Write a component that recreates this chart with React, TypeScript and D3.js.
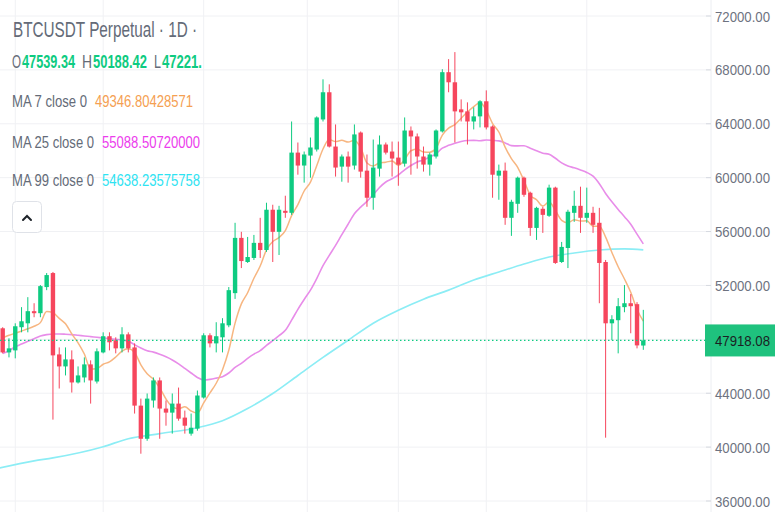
import { useLayoutEffect, useRef, useState } from 'react';
import * as d3 from 'd3';

const W = 775;
const H = 512;

// daily candles, left to right
const opens = [
  48820, 47030, 47180, 48900, 49190, 50090, 49940, 51880, 52920, 46880,
  45990, 46510, 44800, 45170, 46140, 44870, 47030, 48230, 47930, 47330,
  48370, 47400, 43080, 40620, 43460, 44950, 42860, 42560, 43230, 42190,
  41000, 41370, 43680, 48300, 47700, 48150, 49040, 51430, 55530, 53740,
  54040, 55160, 54630, 57620, 55980, 57540, 57390, 61860, 60900, 61640,
  62090, 64320, 66340, 62310, 60820, 61570, 60900, 63350, 60520, 58510,
  60670, 62460, 61940, 61490, 61040, 63500, 63060, 61570, 60970, 61570,
  63430, 67830, 67080, 65070, 64920, 64170, 64550, 65670, 63800, 60150,
  60520, 57020, 58060, 60000, 58880, 56270, 57690, 57170, 59260, 53740,
  54780, 57390, 57910, 57020, 57390, 56650, 53740, 49190, 49420, 50390,
  50680, 50610, 47539.34,
];
const highs = [
  48900, 48080, 49190, 50390, 51130, 50680, 52030, 52920, 53000, 47400,
  47400, 47180, 45990, 46660, 46440, 47330, 48520, 48520, 48150, 48900,
  48520, 47700, 43600, 43980, 45170, 45170, 43460, 43980, 44420, 42710,
  42490, 44200, 48450, 48450, 49270, 49570, 51880, 56650, 55980, 55600,
  55750, 57020, 58140, 57990, 57910, 58660, 64170, 62610, 61940, 62980,
  64550, 67300, 66930, 63950, 61720, 61940, 63950, 63430, 61720, 62830,
  63130, 62610, 62680, 62680, 64470, 63800, 63280, 62310, 61860, 63580,
  68050, 68800, 69320, 65810, 65590, 65220, 65750, 66480, 63880, 60970,
  61120, 58360, 60080, 60080, 58960, 57840, 57840, 59480, 59330, 55230,
  57620, 59030, 59330, 59260, 57840, 57760, 53890, 49790, 51060, 52030,
  51360, 50760, 50188.42,
];
const lows = [
  46960, 46660, 46590, 48520, 48520, 49640, 49640, 51650, 42040, 44350,
  45320, 44050, 44720, 44800, 43230, 44720, 46960, 47180, 46960, 47030,
  47030, 42490, 39510, 40470, 42930, 40620, 41590, 41000, 41960, 41000,
  40850, 41220, 43600, 47400, 47030, 47030, 48900, 51000, 53290, 53670,
  53890, 54040, 54490, 53740, 54260, 57020, 57240, 60220, 59630, 60000,
  61940, 64170, 62240, 60080, 59700, 59630, 60600, 60000, 57840, 57620,
  60080, 61720, 60080, 59400, 60820, 60220, 60670, 60450, 60150, 61420,
  63350, 66340, 62610, 64170, 62460, 63580, 63730, 63580, 58510, 58360,
  56500, 55680, 57390, 58580, 55680, 55380, 55900, 57090, 53600, 53670,
  53290, 56720, 55900, 56650, 55900, 50680, 40700, 47930, 46960, 50010,
  48450, 47330, 47221,
];
const closes = [
  47030, 47330, 48970, 49340, 50090, 49940, 51950, 52770, 46810, 45990,
  46510, 44800, 45320, 46140, 44950, 47110, 48230, 47780, 47330, 48370,
  47330, 43080, 40620, 43600, 44950, 42860, 42560, 43230, 42110, 41590,
  41440, 43830, 48300, 47700, 48230, 49190, 51650, 55530, 53810, 54110,
  55160, 54630, 57620, 55980, 57620, 57390, 61860, 60900, 61720, 62240,
  64470, 66340, 62310, 60750, 61570, 60820, 63210, 60450, 58510, 60750,
  62460, 61860, 61420, 60970, 63500, 63060, 61570, 60970, 61720, 63500,
  67830, 67080, 64920, 64850, 64170, 64550, 65670, 63730, 60220, 60520,
  57020, 58210, 60000, 58730, 56270, 57760, 57240, 59260, 53670, 54860,
  57470, 57910, 57020, 57390, 56500, 53670, 49190, 49490, 50460, 50680,
  50460, 47550, 47918.08,
];

// moving averages, one value per candle
const ma7 = [
  48110, 48300, 48450, 48620, 48780, 48970, 49240, 50060, 49980, 49560,
  49150, 48400, 47740, 46910, 45790, 45830, 46150, 46330, 46690, 47130,
  47300, 47030, 46110, 45440, 45040, 44400, 43570, 42990, 42850, 42990,
  42680, 42520, 43290, 44030, 44740, 45750, 47190, 49200, 50630, 51460,
  52530, 53440, 54640, 55260, 55560, 56070, 57180, 58000, 59010, 59670,
  60890, 62130, 62830, 62680, 62770, 62640, 62780, 62210, 61090, 60870,
  61110, 61150, 61240, 60920, 61350, 62000, 62120, 61910, 61890, 62180,
  63160, 63680, 63940, 64410, 64870, 65270, 65580, 65000, 64020, 63390,
  62270, 61420, 60770, 59780, 58710, 58360, 57890, 58210, 57560, 56830,
  56650, 56880, 56780, 56800, 56400, 56400, 55590, 54450, 53390, 52480,
  51490, 50210, 49346.8,
];
const ma25 = [
  46950, 47150, 47450, 47650, 47850, 48050, 48250, 48350, 48400, 48400,
  48380, 48350, 48300, 48250, 48200, 48150, 48100, 48050, 48000, 47950,
  47850, 47600, 47350, 47150, 47050, 46890, 46700, 46470, 46180, 45840,
  45500, 45170, 44990, 45030, 45120, 45230, 45500, 45910, 46220, 46580,
  46900, 47160, 47550, 47900, 48270, 48670, 49420, 50230, 50960, 51650,
  52510, 53470, 54230, 54970, 55770, 56550, 57320, 57810, 58240, 58740,
  59270, 59680, 59920, 60200, 60580, 60900, 61170, 61310, 61540, 61770,
  62190, 62400, 62560, 62690, 62760, 62770, 62740, 62800, 62770, 62730,
  62580, 62380, 62360, 62370, 62190, 62000, 61820, 61730, 61440, 61100,
  60870, 60730, 60570, 60390, 60110, 59550, 58830, 58210, 57640, 57100,
  56540, 55810, 55088.5,
];
// MA 99 read at a few candles
const ma99Idx = [-1, 5, 8, 16, 20, 25, 31, 35, 39, 43, 47, 51, 55, 59, 63, 67, 71, 75, 79, 83, 87, 91, 95, 99, 102];
const ma99Val = [
  38400, 38980, 39200, 40030, 40620, 41000, 41440, 41960, 42860, 43980,
  45320, 46660, 47930, 49200, 50160, 50980, 51650, 52400, 53000, 53590,
  54110, 54410, 54630, 54710, 54638,
];

const priceTicks = [36000, 40000, 44000, 48000, 52000, 56000, 60000, 64000, 68000, 72000];
const gridIdx = [2, 16, 32, 48.5, 63, 77, 93];
const lastPrice = 47918.08;

const GREEN = '#0ecb81';
const RED = '#f6465d';
const GREY = '#646b78';
const GRID = '#f0f1f4';

const x = d3.scaleLinear().domain([0, opens.length - 1]).range([2.7, 643.3]);
const y = d3.scaleLinear().domain([36000, 72000]).range([501, 16]);

const line = d3
  .line<[number, number]>()
  .x((d) => x(d[0]))
  .y((d) => y(d[1]))
  .curve(d3.curveMonotoneX);

// the screenshot's text is squeezed sideways, so each text is scaled to the width it has there
function FitText(props: { x: number; y: number; w: number; size: number; fill: string; bold?: boolean; children: string }) {
  const { x, y, w, size, fill, bold, children } = props;
  const ref = useRef<SVGTextElement>(null);
  const [sx, setSx] = useState(0.8);
  useLayoutEffect(() => {
    const n = ref.current ? ref.current.getComputedTextLength() : 0;
    if (n > 0) setSx(w / n);
  }, [w, children, size]);
  return (
    <text
      ref={ref}
      transform={`translate(${x},${y}) scale(${sx},1)`}
      fontSize={size}
      fill={fill}
      fontWeight={bold ? 700 : 400}
    >
      {children}
    </text>
  );
}

export default function App() {
  const ma7Path = line(ma7.map((v, i) => [i, v]));
  const ma25Path = line(ma25.map((v, i) => [i, v]));
  const ma99Path = line(ma99Idx.map((k, i) => [k, ma99Val[i]]));
  const yLast = y(lastPrice);
  const font = '"Liberation Sans", Arial, sans-serif';

  return (
    <div style={{ position: 'absolute', left: 0, top: 0 }}>
      <svg width={W} height={H} style={{ display: 'block', background: '#fff' }} fontFamily={font}>
        {/* grid */}
        {priceTicks.map((t) => (
          <line key={t} x1={0} x2={711} y1={y(t)} y2={y(t)} stroke={GRID} />
        ))}
        {gridIdx.map((g) => (
          <line key={g} x1={x(g)} x2={x(g)} y1={0} y2={H} stroke={GRID} />
        ))}
        <line x1={711} x2={711} y1={0} y2={H} stroke="#eceef2" />

        {/* moving averages */}
        <path d={ma99Path} fill="none" stroke="#8cedf5" strokeWidth={1.7} />
        <path d={ma25Path} fill="none" stroke="#e88de9" strokeWidth={1.6} />
        <path d={ma7Path} fill="none" stroke="#f7b681" strokeWidth={1.5} />

        {/* candles */}
        {opens.map((o, i) => {
          const c = closes[i];
          const up = c >= o;
          const col = up ? GREEN : RED;
          const cx = x(i);
          const top = y(Math.max(o, c));
          const bot = y(Math.min(o, c));
          return (
            <g key={i}>
              <line x1={cx} x2={cx} y1={y(highs[i])} y2={y(lows[i])} stroke={col} strokeWidth={1} />
              <rect x={cx - 2.2} y={top} width={4.4} height={Math.max(1, bot - top)} fill={col} />
            </g>
          );
        })}

        {/* last price line */}
        <line x1={0} x2={705} y1={yLast} y2={yLast} stroke={GREEN} strokeWidth={1.3} strokeDasharray="1.5 2.5" />

        {/* price axis */}
        {priceTicks
          .filter((t) => Math.abs(y(t) - yLast) > 18)
          .map((t) => (
            <g key={t}>
              <line x1={706} x2={711} y1={y(t)} y2={y(t)} stroke="#d6d9e0" />
              <FitText x={715} y={y(t) + 5.5} w={55} size={15} fill="#6d7280">
                {t.toFixed(2)}
              </FitText>
            </g>
          ))}
        <rect x={705} y={yLast - 16} width={70} height={32} fill="#1fc27e" />
        <FitText x={715} y={yLast + 5.5} w={55} size={15} fill="#1b1f24">
          {lastPrice.toFixed(2)}
        </FitText>

        {/* legend */}
        <FitText x={13} y={37} w={184} size={22} fill={GREY}>
          BTCUSDT Perpetual · 1D ·
        </FitText>
        <FitText x={12} y={68} w={9} size={18} fill={GREY}>O</FitText>
        <FitText x={22} y={68} w={53} size={18} fill={GREEN} bold>47539.34</FitText>
        <FitText x={82} y={68} w={10} size={18} fill={GREY}>H</FitText>
        <FitText x={93} y={68} w={54} size={18} fill={GREEN} bold>50188.42</FitText>
        <FitText x={154} y={68} w={7} size={18} fill={GREY}>L</FitText>
        <FitText x={162} y={68} w={40} size={18} fill={GREEN} bold>47221.</FitText>

        <FitText x={12} y={107} w={75} size={17} fill={GREY}>MA 7 close 0</FitText>
        <FitText x={95} y={107} w={98} size={17} fill="#f5a052">49346.80428571</FitText>
        <FitText x={12} y={148} w={82} size={17} fill={GREY}>MA 25 close 0</FitText>
        <FitText x={102} y={148} w={98} size={17} fill="#ec3ded">55088.50720000</FitText>
        <FitText x={12} y={186} w={82} size={17} fill={GREY}>MA 99 close 0</FitText>
        <FitText x={102} y={186} w={98} size={17} fill="#2ee3f2">54638.23575758</FitText>

        <rect x={12.5} y={201.5} width={29} height={31} rx={4} fill="#fff" stroke="#dfe2e8" />
        <path d="M23 220 L27 216 L31 220" fill="none" stroke="#1e2329" strokeWidth={2} strokeLinecap="round" />
      </svg>
    </div>
  );
}
